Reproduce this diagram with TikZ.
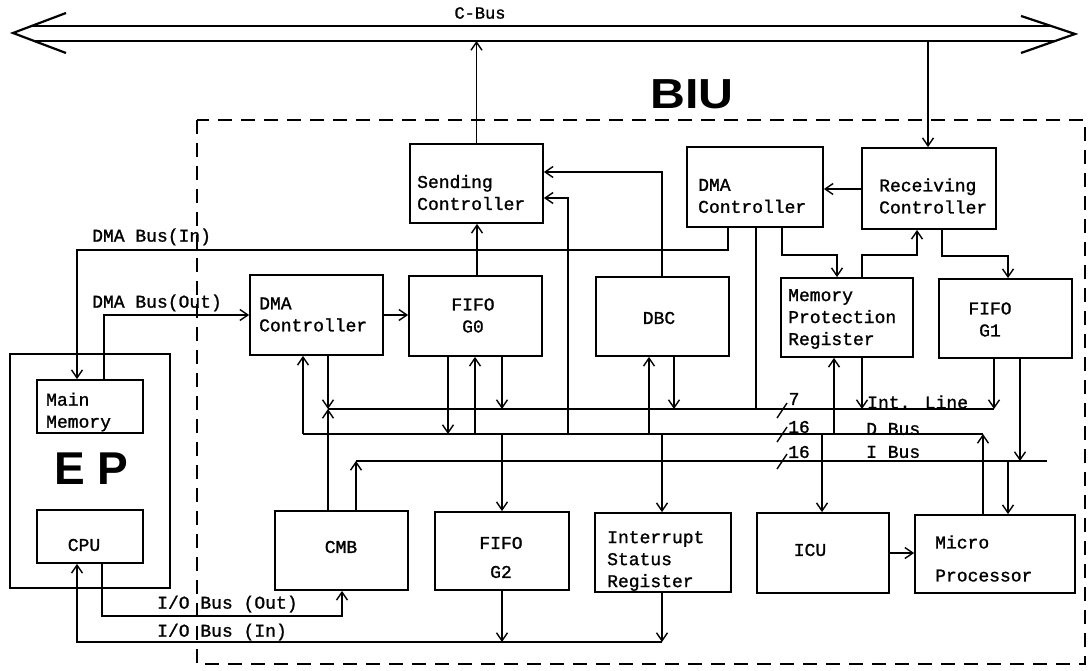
\documentclass[tikz,border=0pt]{standalone}
\usepackage{fontspec}
\usetikzlibrary{arrows.meta,calc}
\newfontfamily\tw{Liberation Mono}[FakeBold=1.2]
\newfontfamily\hv{Liberation Sans}
\begin{document}
\begin{tikzpicture}[x=1pt,y=-1pt,
  box/.style={draw, line width=1.8pt, inner sep=0pt},
  txt/.style={font=\tw\fontsize{18}{22}\selectfont, inner sep=0pt, align=left},
  ctxt/.style={txt, align=center},
  con/.style={line width=1.4pt},
  arr/.style={con, -{Straight Barb[length=8pt,width=11pt]}},
  biu/.style={draw, dash pattern=on 14pt off 9pt, line width=1.5pt},
  big/.style={font=\hv\bfseries\fontsize{#1}{#1}\selectfont, inner sep=0pt}
]
\useasboundingbox (0,0) rectangle (1092,671);

% C-Bus
\coordinate (cbusB) at (0,41);
\draw[line width=1.8pt] (31.5,26) -- (1051,26) (34,41) -- (1055,41);
\draw[line width=2.2pt, line join=miter] (66,13) -- (13,33) -- (66,53);
\draw[line width=2.2pt, line join=miter] (1021,16) -- (1075,34) -- (1021,53);
\node[txt, font=\tw\fontsize{17}{18}\selectfont] (cbusT) at (480,13) {C-Bus};

% BIU frame
\draw[biu] (197,120) rectangle (1085,664);
\node[big=42] (biuT) at (692,94) {\scalebox{1.15}[1]{BIU}};

% EP
\node[box, minimum width=160pt, minimum height=234pt] (ep) at (90,471) {};
\node[box, minimum width=106pt, minimum height=53pt] (mm) at (90,406.5) {};
\node[txt, anchor=west] (mmT) at (46,412) {Main\\Memory};
\node[big=46] (epT) at (91.5,468.5) {E P};
\node[box, minimum width=106pt, minimum height=53pt] (cpu) at (90,536.5) {};
\node[ctxt] (cpuT) at (84,545) {CPU};

% top row
\node[box, minimum width=133pt, minimum height=79pt] (send) at (476.5,183.5) {};
\node[txt, anchor=west] (sendT) at (417,192.5) {Sending\\Controller};
\node[box, minimum width=136pt, minimum height=80pt] (dmaR) at (755,187) {};
\node[txt, anchor=west] (dmaRT) at (698,196) {DMA\\Controller};
\node[box, minimum width=134pt, minimum height=81pt] (recv) at (929,188.5) {};
\node[txt, anchor=west] (recvT) at (879,196) {Receiving\\Controller};

% second row
\node[box, minimum width=133pt, minimum height=80pt] (dmaL) at (316.5,315) {};
\node[txt, anchor=west] (dmaLT) at (259,314.5) {DMA\\Controller};
\node[box, minimum width=133pt, minimum height=80pt] (g0) at (475.5,316) {};
\node[ctxt] (g0T) at (473,315.5) {FIFO\\G0};
\node[box, minimum width=133pt, minimum height=79pt] (dbc) at (662.5,316.5) {};
\node[ctxt] (dbcT) at (659,318) {DBC};
\node[box, minimum width=132pt, minimum height=79pt] (mpr) at (847,317.5) {};
\node[txt, anchor=west] (mprT) at (788,319) {Memory\\Protection\\Register};
\node[box, minimum width=133pt, minimum height=79pt] (g1) at (1005.5,318.5) {};
\node[ctxt] (g1T) at (990,319.5) {FIFO\\G1};

% bottom row
\node[box, minimum width=133pt, minimum height=79pt] (cmb) at (341.5,550.5) {};
\node[ctxt] (cmbT) at (341,547) {CMB};
\node[box, minimum width=134pt, minimum height=78pt] (g2) at (502,551) {};
\node[ctxt] (g2T) at (501,557.5) {FIFO\\[7pt]G2};
\node[box, minimum width=136pt, minimum height=79pt] (isr) at (663,552.5) {};
\node[txt, anchor=west] (isrT) at (607,561) {Interrupt\\Status\\Register};
\node[box, minimum width=132pt, minimum height=80pt] (icu) at (823,553) {};
\node[ctxt] (icuT) at (810,550) {ICU};
\node[box, minimum width=160pt, minimum height=78pt] (micro) at (995,554) {};
\node[txt, anchor=west] (microT) at (935,558.5) {Micro\\[11pt]Processor};

% bus coordinates
\coordinate (intL) at (328,409); \coordinate (intR) at (994,409);
\coordinate (dL) at (303,434);   \coordinate (dR) at (983,434);
\coordinate (iL) at (356,461);   \coordinate (iR) at (1047,461);

% buses
\draw[con] (intR) -- (intL);
\draw[con] (dL) -- (dR);
\draw[con] (iL) -- (iR);
\draw[con] (777,418) -- (787,403);
\draw[con] (777,442) -- (787,427);
\draw[con] (777,469) -- (787,454);
\node[txt] (n7) at (794,399) {7};
\node[txt] (n16a) at (799,427) {16};
\node[txt] (n16b) at (799,452) {16};
\node[txt, anchor=west] (intT) at (867,402) {Int. Line};
\node[txt, anchor=west] (dbusT) at (866,429) {D Bus};
\node[txt, anchor=west] (ibusT) at (866,452) {I Bus};

% C-Bus connections
\draw[arr] (send.north) -- (send.north |- cbusB);
\draw[arr] (928,0 |- cbusB) -- (928,0 |- recv.north);

% top connections
\draw[arr] (recv.west |- 0,189) -- (dmaR.east |- 0,189);
\draw[arr] (782,0 |- dmaR.south) -- (782,255) -- (837,255) -- (837,0 |- mpr.north);
\draw[arr] (862,0 |- mpr.north) -- (862,255) -- (917,255) -- (917,0 |- recv.south);
\draw[arr] (942,0 |- recv.south) -- (942,256) -- (1008,256) -- (1008,0 |- g1.north);
\draw[arr] (728,0 |- dmaR.south) -- (728,250) -- (77,250) -- (77,0 |- mm.north);
\draw[con] (756,0 |- dmaR.south) -- (756,0 |- intL);
\draw[arr] (104,0 |- mm.north) -- (104,315) -- (dmaL.west);
\draw[arr] (dmaL.east) -- (g0.west |- dmaL.east);
\draw[arr] (477,0 |- g0.north) -- (477,0 |- send.south);
\draw[arr] (662,0 |- dbc.north) -- (662,172) -- (send.east |- 0,172);
\draw[arr] (568,0 |- dL) -- (568,198) -- (send.east |- 0,198);

% DMA (left) and CMB
\draw[arr] (dL) -- (303,0 |- dmaL.south);
\draw[arr] (328,0 |- dmaL.south) -- (intL);
\draw[arr] (328,0 |- cmb.north) -- (intL);
\draw[arr] (356,0 |- cmb.north) -- (iL);

% FIFO G0
\draw[arr] (448,0 |- g0.south) -- (448,0 |- dL);
\draw[arr] (475,0 |- dL) -- (475,0 |- g0.south);
\draw[arr] (502,0 |- g0.south) -- (502,0 |- intL);

% DBC
\draw[arr] (649,0 |- dL) -- (649,0 |- dbc.south);
\draw[arr] (674,0 |- dbc.south) -- (674,0 |- intL);

% MPR
\draw[arr] (834,0 |- dL) -- (834,0 |- mpr.south);
\draw[arr] (862,0 |- mpr.south) -- (862,0 |- intL);

% FIFO G1
\draw[arr] (994,0 |- g1.south) -- (intR);
\draw[arr] (1020,0 |- g1.south) -- (1020,0 |- iL);

% bottom row from buses
\draw[arr] (502,0 |- dL) -- (502,0 |- g2.north);
\draw[arr] (662,0 |- dL) -- (662,0 |- isr.north);
\draw[arr] (822,0 |- dL) -- (822,0 |- icu.north);
\draw[arr] (983,0 |- micro.north) -- (dR);
\draw[arr] (1008,0 |- iL) -- (1008,0 |- micro.north);
\draw[arr] (icu.east |- 0,553) -- (micro.west |- 0,553);

% I/O buses
\coordinate (ioIn) at (662,642);
\draw[arr] (502,0 |- g2.south) -- (502,0 |- ioIn);
\draw[arr] (662,0 |- isr.south) -- (ioIn);
\draw[arr] (ioIn) -- (77,642) -- (77,0 |- cpu.south);
\draw[arr] (102,0 |- cpu.south) -- (102,616) -- (342,616) -- (342,0 |- cmb.south);

% bus labels
\node[txt, anchor=west] (dbiT) at (92,237) {DMA Bus(In)};
\node[txt, anchor=west] (dboT) at (92,303) {DMA Bus(Out)};
\node[txt, anchor=west] (iooT) at (157,604) {I/O Bus (Out)};
\node[txt, anchor=west] (ioiT) at (157,632) {I/O Bus (In)};
\end{tikzpicture}
\end{document}
